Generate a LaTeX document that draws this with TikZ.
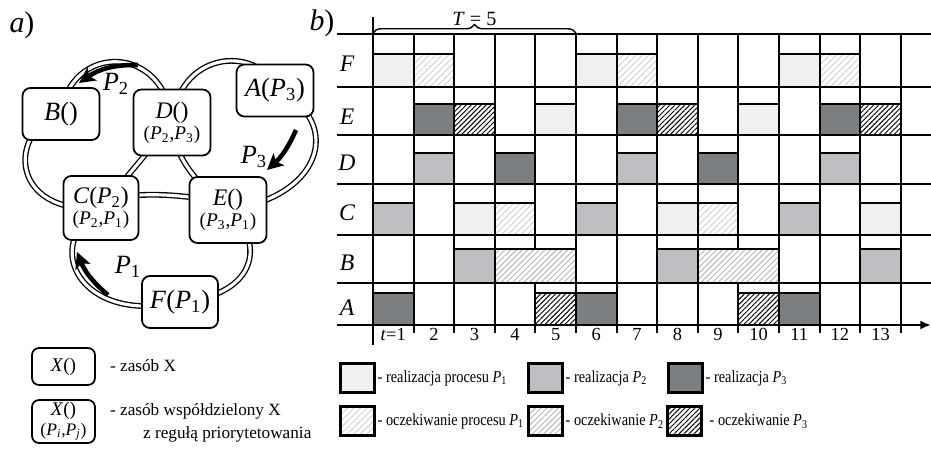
\documentclass[tikz,border=0pt]{standalone}
\usepackage{fontspec}
\setmainfont{Liberation Serif}
\newfontfamily\narrowfont[FakeStretch=0.85]{Liberation Serif}
\usetikzlibrary{arrows.meta,backgrounds,decorations.pathreplacing,patterns.meta}

\definecolor{runone}{HTML}{F0F0F0}
\definecolor{runtwo}{HTML}{BEBFC2}
\definecolor{runthree}{HTML}{7B7F82}

\newcommand{\Pn}[1]{\textit{P}\textsubscript{#1}}

\tikzset{
  res/.style={draw, line width=1pt, rounded corners=4.5pt, fill=white, minimum width=1.54cm,
    minimum height=1.04cm, inner sep=1pt, font=\fontsize{15}{17}\selectfont},
  shres/.style={res, minimum height=1.32cm, align=center, font=\fontsize{13.5}{14}\selectfont},
  ring/.style={draw, line width=0.75pt, double=white, double distance=1.8pt},
  parrow/.style={line width=2.6pt, -{Stealth[length=9pt,width=9pt,inset=2pt]}},
  gridline/.style={line width=1.2pt},
  cellbox/.style={draw, line width=1.2pt},
  run1/.style={cellbox, fill=runone},
  run2/.style={cellbox, fill=runtwo},
  run3/.style={cellbox, fill=runthree},
  wait1/.style={cellbox, preaction={fill=white}, pattern color=gray!45,
    pattern={Lines[angle=45,distance=2.6pt,line width=0.4pt]}},
  wait2/.style={cellbox, preaction={fill=white}, pattern color=gray!65,
    pattern={Lines[angle=45,distance=2.3pt,line width=0.45pt]}},
  wait3/.style={cellbox, preaction={fill=white}, pattern color=black,
    pattern={Lines[angle=45,distance=2pt,line width=0.55pt]}},
  keyres/.style={draw, line width=1pt, rounded corners=4pt, minimum width=1.26cm,
    minimum height=0.74cm, inner sep=1pt, align=center, font=\fontsize{11}{12}\selectfont},
  keybox/.style={line width=1.3pt, minimum width=0.68cm, minimum height=0.58cm, inner sep=0pt},
  keytext/.style={anchor=west, inner sep=1pt, font=\narrowfont\fontsize{9.6}{11}\selectfont},
  note/.style={anchor=west, inner sep=1pt, font=\fontsize{9.8}{11}\selectfont},
  rowlab/.style={font=\fontsize{13.5}{15}\selectfont\itshape},
  tlab/.style={anchor=north, inner sep=1pt, font=\fontsize{10.5}{12}\selectfont},
}

\begin{document}
\begin{tikzpicture}[x=0.02cm, y=0.02cm]
\useasboundingbox (0,0) rectangle (931,-452);
% one time slot of the schedule
\def\colw{40.6}

% a) resources and the three process rings
\node[font=\fontsize{17}{19}\selectfont\itshape] (parta) at (22,-25) {a\textup{)}};
\node[res] (B) at (61,-114) {\textit{B}()};
\node[shres] (D) at (172,-122.5) {\textit{D}()\\[-2pt]{\fontsize{11}{12}\selectfont(\Pn{2},\Pn{3})}};
\node[res] (A) at (275,-90.5) {\textit{A}(\Pn{3})};
\node[shres, minimum width=1.5cm, minimum height=1.28cm] (C) at (101,-208) {\textit{C}(\Pn{2})\\[-2pt]{\fontsize{11}{12}\selectfont(\Pn{2},\Pn{1})}};
\node[shres] (E) at (228,-210) {\textit{E}()\\[-2pt]{\fontsize{11}{12}\selectfont(\Pn{3},\Pn{1})}};
\node[res, minimum width=1.52cm] (F) at (180,-302) {\textit{F}(\Pn{1})};

\begin{pgfonlayer}{background}
% ring of P2
\draw[ring] (B.center) .. controls (70,-43) and (165,-43) .. (D.center) -- (C.center)
  .. controls (8,-215) and (8,-130) .. (B.center);
% ring of P3
\draw[ring] (D.center) .. controls (180,-45) and (265,-48) .. (A.center)
  .. controls (340,-115) and (330,-195) .. (E.center);
\draw[ring] (D.center) .. controls (175,-160) and (195,-180) .. (E.center);
% ring of P1
\draw[ring] ([yshift=0.26cm]C.east) to[bend left=4] ([yshift=0.26cm]E.west);
\draw[ring] (E.center) .. controls (265,-240) and (260,-295) .. (F.center)
  .. controls (80,-325) and (40,-245) .. (C.center);
\end{pgfonlayer}

% direction of each process
\coordinate (p2a) at (138,-65);
\coordinate (p2b) at (79,-83);
\coordinate (p3a) at (296,-130);
\coordinate (p3b) at (267,-170);
\coordinate (p1a) at (108,-295);
\coordinate (p1b) at (77,-252);
\draw[parrow] (p2a) to[bend right=18] (p2b);
\draw[parrow] (p3a) to[bend left=12] (p3b);
\draw[parrow] (p1a) to[bend left=14] (p1b);
\node[font=\fontsize{15}{17}\selectfont] (l2) at (116,-84) {\Pn{2}};
\node[font=\fontsize{15}{17}\selectfont] (l3) at (254,-157) {\Pn{3}};
\node[font=\fontsize{15}{17}\selectfont] (l1) at (128,-267) {\Pn{1}};

% legend of a)
\node[keyres] (kx) at (63.5,-366.5) {\textit{X}()};
\node[note] (kxt) at (108,-366) {- zasób X};
\node[keyres, minimum height=0.86cm] (kxs) at (63.5,-421.5) {\textit{X}()\\[-1pt]{\fontsize{10}{11}\selectfont(\textit{P\textsubscript{i}},\textit{P\textsubscript{j}})}};
\node[note] (kxst) at (108,-411) {- zasób współdzielony X};
\node[note] (kxsu) at (141,-434) {z regułą priorytetowania};

% b) schedule
\node[font=\fontsize{17}{19}\selectfont\itshape] (partb) at (322,-23) {b\textup{)}};

% grid
\draw[gridline] (373,-17) -- (373,-345);
\draw[gridline] (337,-34) -- (931,-34);
\draw[gridline] (337,-87) -- (931,-87);
\draw[gridline] (337,-135) -- (931,-135);
\draw[gridline] (337,-184) -- (931,-184);
\draw[gridline] (337,-235) -- (931,-235);
\draw[gridline] (337,-283) -- (931,-283);
\draw[gridline, -{Latex[length=6pt,width=5pt]}] (337,-325) -- (931,-325);
\draw[gridline] (413.6,-34) -- (413.6,-333);
\draw[gridline] (454.2,-34) -- (454.2,-333);
\draw[gridline] (494.8,-34) -- (494.8,-333);
\draw[gridline] (535.4,-34) -- (535.4,-333);
\draw[gridline] (576.0,-34) -- (576.0,-333);
\draw[gridline] (616.6,-34) -- (616.6,-333);
\draw[gridline] (657.2,-34) -- (657.2,-333);
\draw[gridline] (697.8,-34) -- (697.8,-333);
\draw[gridline] (738.4,-34) -- (738.4,-333);
\draw[gridline] (779.0,-34) -- (779.0,-333);
\draw[gridline] (819.6,-34) -- (819.6,-333);
\draw[gridline] (860.2,-34) -- (860.2,-333);
\draw[gridline] (900.8,-34) -- (900.8,-333);

% period
\draw[line width=0.8pt, decorate, decoration={brace, amplitude=0.17cm}] (373,-33) -- (576,-33)
  node[midway, above=0.1cm, inner sep=1pt, font=\fontsize{11.5}{13}\selectfont] (period) {\textit{T} = 5};

% row labels
\node[rowlab] (rF) at (347,-64) {F};
\node[rowlab] (rE) at (347,-117) {E};
\node[rowlab] (rD) at (347,-163) {D};
\node[rowlab] (rC) at (347,-213) {C};
\node[rowlab] (rB) at (347,-263) {B};
\node[rowlab] (rA) at (347,-308) {A};

% time slots
\node[tlab] (t1) at (393.3,-326) {\textit{t}=1};
\node[tlab] (t2) at (433.9,-326) {2};
\node[tlab] (t3) at (474.5,-326) {3};
\node[tlab] (t4) at (515.1,-326) {4};
\node[tlab] (t5) at (555.7,-326) {5};
\node[tlab] (t6) at (596.3,-326) {6};
\node[tlab] (t7) at (636.9,-326) {7};
\node[tlab] (t8) at (677.5,-326) {8};
\node[tlab] (t9) at (718.1,-326) {9};
\node[tlab] (t10) at (758.7,-326) {10};
\node[tlab] (t11) at (799.3,-326) {11};
\node[tlab] (t12) at (839.9,-326) {12};
\node[tlab] (t13) at (880.5,-326) {13};

% row F
\draw[run1] (373.0,-87) rectangle +(\colw,33);
\draw[wait1] (413.6,-87) rectangle +(\colw,33);
\draw[run1] (576.0,-87) rectangle +(\colw,33);
\draw[wait1] (616.6,-87) rectangle +(\colw,33);
\draw[run1] (779.0,-87) rectangle +(\colw,33);
\draw[wait1] (819.6,-87) rectangle +(\colw,33);
% row E
\draw[run3] (413.6,-135) rectangle +(\colw,31);
\draw[wait3] (454.2,-135) rectangle +(\colw,31);
\draw[run1] (535.4,-135) rectangle +(\colw,31);
\draw[run3] (616.6,-135) rectangle +(\colw,31);
\draw[wait3] (657.2,-135) rectangle +(\colw,31);
\draw[run1] (738.4,-135) rectangle +(\colw,31);
\draw[run3] (819.6,-135) rectangle +(\colw,31);
\draw[wait3] (860.2,-135) rectangle +(\colw,31);
% row D
\draw[run2] (413.6,-184) rectangle +(\colw,31);
\draw[run3] (494.8,-184) rectangle +(\colw,31);
\draw[run2] (616.6,-184) rectangle +(\colw,31);
\draw[run3] (697.8,-184) rectangle +(\colw,31);
\draw[run2] (819.6,-184) rectangle +(\colw,31);
% row C
\draw[run2] (373.0,-235) rectangle +(\colw,32);
\draw[run1] (454.2,-235) rectangle +(\colw,32);
\draw[wait1] (494.8,-235) rectangle +(\colw,32);
\draw[run2] (576.0,-235) rectangle +(\colw,32);
\draw[run1] (657.2,-235) rectangle +(\colw,32);
\draw[wait1] (697.8,-235) rectangle +(\colw,32);
\draw[run2] (779.0,-235) rectangle +(\colw,32);
\draw[run1] (860.2,-235) rectangle +(\colw,32);
% row B
\draw[run2] (454.2,-283) rectangle +(\colw,34);
\draw[wait2] (494.8,-283) rectangle +(81.2,34);
\draw[run2] (657.2,-283) rectangle +(\colw,34);
\draw[wait2] (697.8,-283) rectangle +(81.2,34);
\draw[run2] (860.2,-283) rectangle +(\colw,34);
% row A
\draw[run3] (373.0,-325) rectangle +(\colw,32);
\draw[wait3] (535.4,-325) rectangle +(\colw,32);
\draw[run3] (576.0,-325) rectangle +(\colw,32);
\draw[wait3] (738.4,-325) rectangle +(\colw,32);
\draw[run3] (779.0,-325) rectangle +(\colw,32);

% legend of b)
\node[keybox, run1] (k1) at (357.5,-378) {};
\node[keytext] (k1t) at (k1.east) {- realizacja procesu \Pn{1}};
\node[keybox, run2] (k2) at (545.5,-378) {};
\node[keytext] (k2t) at (k2.east) {- realizacja \Pn{2}};
\node[keybox, run3] (k3) at (685.5,-378) {};
\node[keytext] (k3t) at (k3.east) {- realizacja \Pn{3}};
\node[keybox, wait1] (k4) at (357.5,-421) {};
\node[keytext] (k4t) at (k4.east) {- oczekiwanie procesu \Pn{1}};
\node[keybox, wait2] (k5) at (545.5,-421) {};
\node[keytext] (k5t) at (k5.east) {- oczekiwanie \Pn{2}};
\node[keybox, wait3] (k6) at (684.5,-421) {};
\node[keytext] (k6t) at ([xshift=0.1cm]k6.east) {- oczekiwanie \Pn{3}};
\end{tikzpicture}
\end{document}
